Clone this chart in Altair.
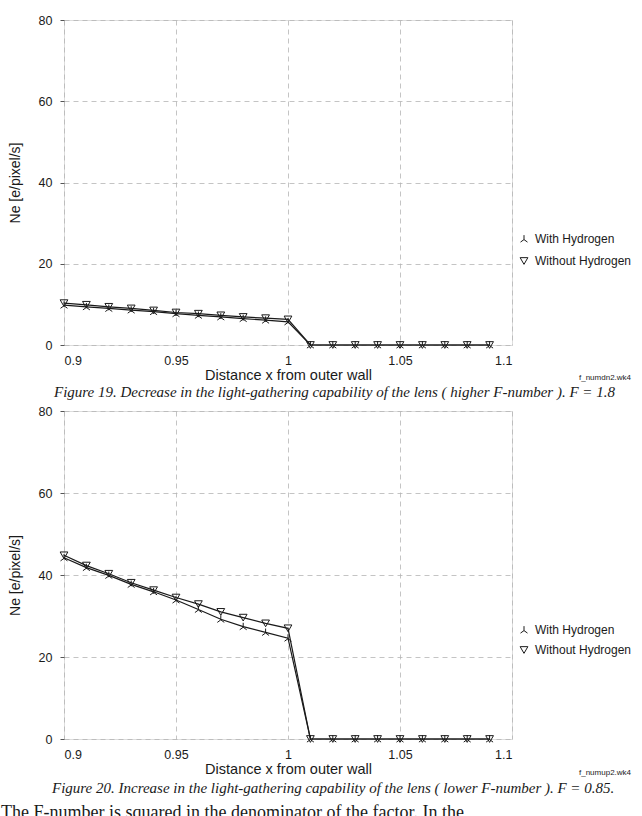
import altair as alt
import pandas as pd

# ---------------- data ----------------
x_vals = [0.90, 0.91, 0.92, 0.93, 0.94, 0.95, 0.96, 0.97, 0.98, 0.99, 1.00,
          1.01, 1.02, 1.03, 1.04, 1.05, 1.06, 1.07, 1.08, 1.09]

top_with = [9.8, 9.4, 9.0, 8.6, 8.2, 7.7, 7.3, 6.9, 6.5, 6.1, 5.7,
            0, 0, 0, 0, 0, 0, 0, 0, 0]
top_without = [10.3, 9.9, 9.4, 9.0, 8.5, 8.0, 7.7, 7.3, 6.9, 6.6, 6.3,
               0, 0, 0, 0, 0, 0, 0, 0, 0]

bot_with = [44.2, 41.8, 39.9, 37.7, 35.9, 33.9, 31.6, 29.2, 27.4, 26.0, 24.6,
            0, 0, 0, 0, 0, 0, 0, 0, 0]
bot_without = [44.8, 42.3, 40.3, 38.1, 36.3, 34.5, 32.9, 31.0, 29.6, 28.2, 27.0,
               0, 0, 0, 0, 0, 0, 0, 0, 0]

legend_names = ["With Hydrogen", "Without Hydrogen"]
x_ticks = [0.9, 0.95, 1.0, 1.05, 1.1]
y_ticks = [0, 20, 40, 60, 80]
captions = [
    "Figure 19. Decrease in the light-gathering capability of the lens ( higher F-number ). F = 1.8",
    "Figure 20. Increase in the light-gathering capability of the lens ( lower F-number ). F = 0.85.",
]
file_tags = ["f_numdn2.wk4", "f_numup2.wk4"]
body_text = "The F-number is squared in the denominator of the factor. In the"

x_title = "Distance x from outer wall"
y_title = "Ne [e/pixel/s]"

# ---------------- styling ----------------
SANS = "Liberation Sans"
SERIF = "Liberation Serif"
INK = "#1a1a1a"
WITH_PATH = "M0,-1L0,0.15M0,0.15L-0.9,0.8M0,0.15L0.9,0.8"
W = 448


def panel(with_vals, without_vals, h, leg_y, row_pad, cap, cap_x, cap_dy, tag, tag_dy, extra=None):
    n = len(x_vals)
    df = pd.DataFrame({
        "x": x_vals + x_vals,
        "ne": with_vals + without_vals,
        "series": [legend_names[0]] * n + [legend_names[1]] * n,
    })
    xenc = alt.X(
        "x:Q",
        scale=alt.Scale(domain=[0.9, 1.1], nice=False, zero=False),
        axis=alt.Axis(
            values=x_ticks, format="~g", title=x_title,
            grid=True, gridDash=[5, 4], gridColor="#b5b5b5", gridWidth=0.8,
            ticks=False, domain=False,
            labelFont=SANS, labelFontSize=12.5, labelColor=INK, labelPadding=9,
            titleFont=SANS, titleFontSize=14.5, titleFontWeight="normal",
            titleColor=INK, titlePadding=2,
        ),
    )
    yenc = alt.Y(
        "ne:Q",
        scale=alt.Scale(domain=[0, 80], nice=False),
        axis=alt.Axis(
            values=y_ticks, title=y_title,
            grid=True, gridDash=[5, 4], gridColor="#b5b5b5", gridWidth=0.8,
            ticks=True, tickSize=4, tickColor="#555", domain=False,
            labelFont=SANS, labelFontSize=12.5, labelColor=INK, labelPadding=8,
            titleFont=SANS, titleFontSize=14, titleFontWeight="normal",
            titleColor=INK, titlePadding=16,
        ),
    )
    base = alt.Chart(df)
    lines = base.mark_line(color=INK, strokeWidth=1.2).encode(
        x=xenc, y=yenc, detail="series:N"
    )
    pts = base.mark_point(filled=False, size=60, color=INK, strokeWidth=1, opacity=1).encode(
        x=xenc,
        y=yenc,
        shape=alt.Shape(
            "series:N",
            scale=alt.Scale(domain=legend_names, range=[WITH_PATH, "triangle-down"]),
            legend=alt.Legend(
                title=None, orient="none", legendX=454, legendY=leg_y,
                padding=0, rowPadding=row_pad, labelOffset=5,
                labelFont=SANS, labelFontSize=12, labelColor=INK,
                symbolSize=60, symbolStrokeWidth=1, symbolStrokeColor=INK,
            ),
        ),
    )
    cap_layer = alt.Chart(pd.DataFrame({"t": [cap]})).mark_text(
        align="left", baseline="middle", font=SERIF, fontStyle="italic",
        fontSize=15, color=INK,
    ).encode(text="t:N", x=alt.value(cap_x), y=alt.value(h + cap_dy))
    tag_layer = alt.Chart(pd.DataFrame({"t": [tag]})).mark_text(
        align="left", baseline="middle", font=SANS, fontSize=8, color=INK,
    ).encode(text="t:N", x=alt.value(515), y=alt.value(h + tag_dy))
    layers = [lines, pts, cap_layer, tag_layer]
    if extra is not None:
        layers.append(
            alt.Chart(pd.DataFrame({"t": [extra]})).mark_text(
                align="left", baseline="middle", font=SERIF, fontSize=18, color=INK,
            ).encode(text="t:N", x=alt.value(-63), y=alt.value(h + 74))
        )
    return alt.layer(*layers).properties(width=W, height=h)


top = panel(top_with, top_without, 325, 213, 10, captions[0], -10, 47, file_tags[0], 33)
bottom = panel(bot_with, bot_without, 328, 213, 8, captions[1], -12, 49, file_tags[1], 34, body_text)

chart = (
    alt.vconcat(top, bottom, spacing=3)
    .resolve_scale(x="independent", y="independent", shape="independent")
    .resolve_legend(shape="independent")
    .properties(padding={"left": 0, "top": 13, "right": 0, "bottom": 0})
    .configure_view(stroke="#444", strokeWidth=1)
    .configure(background="white")
)

chart.save("out.html", embed_options={"renderer": "svg", "actions": False})
